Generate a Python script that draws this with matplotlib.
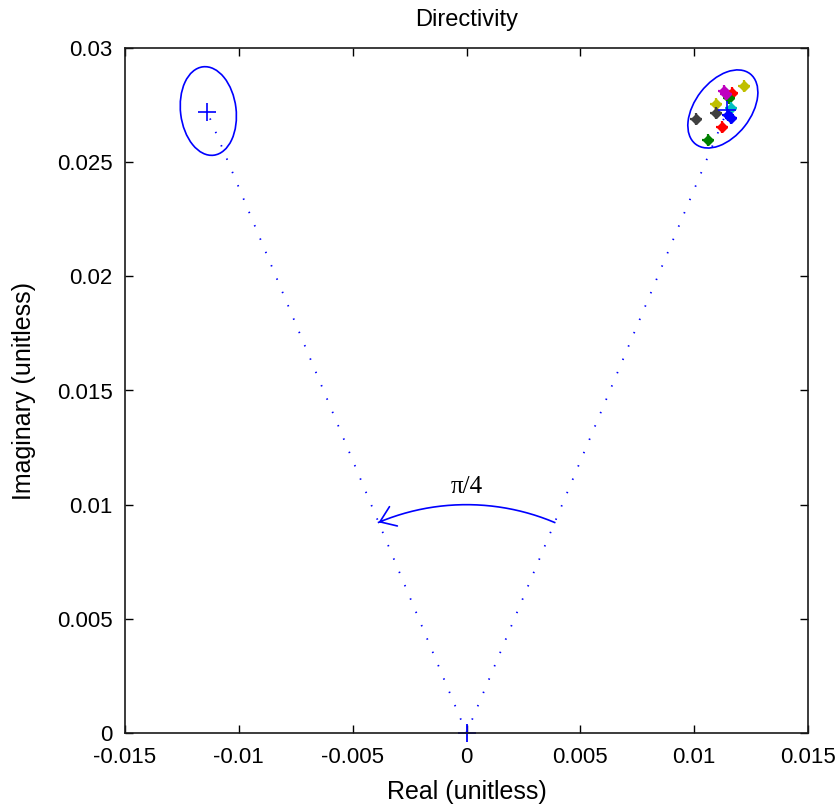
import numpy as np
import matplotlib
matplotlib.use("Agg")
import matplotlib.pyplot as plt
from matplotlib.patches import Ellipse

plt.rcParams['font.family'] = ['Liberation Sans', 'DejaVu Sans']
plt.rcParams['axes.unicode_minus'] = False

# ---- data ----
origin = (0.0, 0.0)
mean_right = (0.01146, 0.02728)
mean_left = (-0.01139, 0.02721)

ell_right_center = (0.01126, 0.02733)
ell_left_center = (-0.01134, 0.02724)
ell_semi_major = 0.00195
ell_semi_minor = 0.00122
ell_right_angle = 52.0
ell_left_angle = 97.0

samples_x = [0.01219, 0.01095, 0.01131, 0.01168, 0.01153, 0.01007, 0.01095,
             0.01161, 0.01161, 0.01124, 0.01059, 0.01140, 0.01150]
samples_y = [0.02834, 0.02753, 0.02812, 0.02802, 0.02780, 0.02688, 0.02717,
             0.02737, 0.02693, 0.02655, 0.02597, 0.02800, 0.02705]
samples_c = [(0.75, 0.75, 0), (0.75, 0.75, 0), (0.75, 0, 0.75), (1, 0, 0),
             (0, 0.5, 0), (0.25, 0.25, 0.25), (0.25, 0.25, 0.25), (0, 0.75, 0.75),
             (0, 0, 1), (1, 0, 0), (0, 0.5, 0), (0.75, 0, 0.75), (0, 0, 1)]

arc_radius = 0.01
arc_label = "π/4"

xticks = [-0.015, -0.01, -0.005, 0, 0.005, 0.01, 0.015]
xticklabels = ["-0.015", "-0.01", "-0.005", "0", "0.005", "0.01", "0.015"]
yticks = [0, 0.005, 0.01, 0.015, 0.02, 0.025, 0.03]
yticklabels = ["0", "0.005", "0.01", "0.015", "0.02", "0.025", "0.03"]

# ---- figure ----
fig = plt.figure(figsize=(8.4, 8.05), dpi=100)
ax = fig.add_axes([125/840, 72/805, 683/840, 685/805])
blue = (0, 0, 1)

# dotted lines with + markers at ends
for m in (mean_right, mean_left):
    ax.plot([origin[0], m[0]], [origin[1], m[1]], color=blue, lw=1.3,
            linestyle=(0, (0.8, 7.2)), zorder=2)
    ax.plot([m[0]], [m[1]], linestyle='none', marker='+',
            markersize=13, mew=1.2, color=blue, zorder=4)
ax.plot([origin[0]], [origin[1]], linestyle='none', marker='+',
        markersize=13, mew=1.3, color=blue, clip_on=False, zorder=2)

# ellipses
ax.add_patch(Ellipse(ell_right_center, 2*ell_semi_major, 2*ell_semi_minor,
                     angle=ell_right_angle, fill=False, ec=blue, lw=1.2, zorder=3))
ax.add_patch(Ellipse(ell_left_center, 2*ell_semi_major, 2*ell_semi_minor,
                     angle=ell_left_angle, fill=False, ec=blue, lw=1.2, zorder=3))

# samples
for x, y, c in zip(samples_x, samples_y, samples_c):
    ax.plot([x], [y], linestyle='none', marker='D', markersize=5.5, color=c,
            mec=c, zorder=3)
    ax.plot([x], [y], linestyle='none', marker='+', markersize=8, mew=1.6,
            color=c, zorder=3)

# arc
t1 = np.arctan2(mean_right[1], mean_right[0])
t2 = np.arctan2(mean_left[1], mean_left[0])
th = np.linspace(t1, t2, 200)
ax.plot(arc_radius*np.cos(th), arc_radius*np.sin(th), color=blue, lw=1.2, zorder=3)
ax.annotate('', xy=(arc_radius*np.cos(t2), arc_radius*np.sin(t2)),
            xytext=(arc_radius*np.cos(t2 - 0.02), arc_radius*np.sin(t2 - 0.02)),
            arrowprops=dict(arrowstyle='->,head_length=1.05,head_width=0.75',
                            color=blue, lw=1.2, shrinkA=0, shrinkB=0,
                            mutation_scale=10))
ax.text(0, 0.0105, arc_label, ha='center', va='baseline', fontsize=18,
        family=['Liberation Serif', 'DejaVu Serif'])

ax.set_xlim(-0.015, 0.015)
ax.set_ylim(0, 0.03)
ax.set_xticks(xticks)
ax.set_xticklabels(xticklabels)
ax.set_yticks(yticks)
ax.set_yticklabels(yticklabels)
ax.tick_params(direction='in', length=6, width=1, labelsize=16, pad=10,
               top=True, right=True)
ax.tick_params(axis='y', pad=9)
for s in ax.spines.values():
    s.set_linewidth(1.2)
    s.set_color('#1a1a1a')
    s.set_zorder(3)

ax.set_title("Directivity", fontsize=17, pad=16)
ax.set_xlabel("Real (unitless)", fontsize=18, labelpad=9)
ax.set_ylabel("Imaginary (unitless)", fontsize=18, labelpad=15)

fig.savefig("out.png", dpi=100)
